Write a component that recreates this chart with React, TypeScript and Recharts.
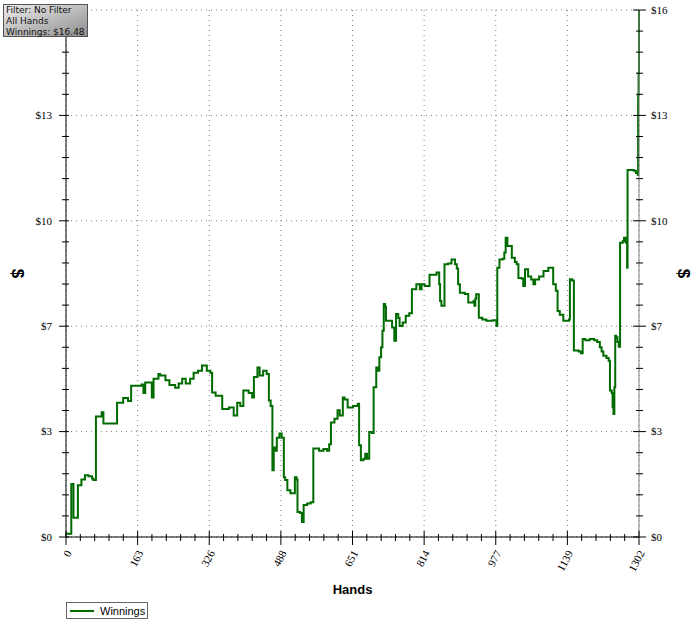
import React from 'react';
import { LineChart, Line, XAxis, YAxis, CartesianGrid } from 'recharts';

// hand number where the running total changes
const hands = [
  0, 11, 12, 17, 27, 35, 43, 51, 59, 62,
  68, 81, 85, 107, 116, 130, 141, 148, 172, 176,
  180, 195, 199, 210, 214, 226, 235, 248, 256, 264,
  272, 282, 290, 300, 309, 320, 328, 332, 340, 350,
  355, 370, 381, 389, 396, 403, 415, 423, 427, 435,
  440, 448, 456, 461, 465, 469, 472, 475, 479, 485,
  490, 495, 498, 503, 510, 520, 524, 526, 532, 536,
  540, 548, 556, 562, 575, 585, 593, 598, 602, 610,
  617, 622, 629, 633, 640, 652, 663, 666, 670, 676,
  680, 684, 689, 695, 699, 705, 709, 712, 716, 719,
  722, 725, 727, 735, 741, 746, 750, 755, 758, 765,
  772, 780, 786, 796, 804, 808, 815, 826, 835, 842,
  848, 850, 853, 860, 868, 876, 884, 888, 891, 895,
  906, 914, 926, 928, 930, 932, 938, 946, 955, 970,
  978, 980, 985, 992, 996, 999, 1003, 1010, 1013, 1020,
  1024, 1028, 1035, 1039, 1043, 1050, 1057, 1062, 1066, 1075,
  1085, 1096, 1104, 1107, 1113, 1117, 1122, 1130, 1143, 1145,
  1150, 1154, 1165, 1170, 1174, 1180, 1190, 1200, 1207, 1213,
  1217, 1221, 1228, 1233, 1236, 1240, 1242, 1244, 1246, 1248,
  1250, 1253, 1256, 1259, 1265, 1268, 1272, 1275, 1276, 1285,
  1290, 1295, 1299, 1300, 1301, 1302,
];

// winnings in $ at each of those hands
const winnings = [
  0.1, 0.1, 1.66, 0.6, 1.62, 1.8, 1.93, 1.9, 1.83, 1.78,
  3.77, 3.9, 3.55, 3.55, 4.2, 4.35, 4.25, 4.73, 4.77, 4.5,
  4.83, 4.36, 4.95, 5.1, 5.05, 4.9, 4.75, 4.67, 4.8, 4.95,
  4.8, 4.95, 5.14, 5.2, 5.36, 5.2, 5.14, 4.52, 4.42, 4.42,
  4.0, 4.05, 3.8, 4.2, 4.1, 4.58, 4.5, 4.36, 5.0, 5.3,
  5.05, 5.2, 5.1, 4.27, 4.1, 2.09, 2.8, 2.7, 3.1, 3.24,
  3.1, 1.87, 1.78, 1.46, 1.37, 1.87, 1.8, 0.78, 0.75, 0.47,
  1.0, 1.05, 1.09, 2.77, 2.7, 2.75, 2.7, 2.9, 3.58, 3.7,
  3.96, 3.8, 4.36, 4.3, 4.05, 4.1, 4.17, 2.87, 2.4, 2.45,
  2.6, 2.45, 3.28, 3.25, 4.68, 5.3, 5.2, 5.62, 5.93, 6.45,
  7.29, 7.2, 6.76, 6.76, 6.55, 6.14, 6.97, 6.85, 6.6, 6.71,
  6.92, 7.0, 7.75, 7.9, 7.75, 7.9, 7.85, 8.2, 8.2, 8.27,
  7.9, 7.38, 7.23, 8.53, 8.55, 8.68, 8.53, 8.4, 7.9, 7.64,
  7.6, 7.33, 7.38, 7.23, 7.45, 7.59, 6.86, 6.8, 6.76, 6.78,
  6.6, 8.42, 8.68, 8.7, 8.9, 9.36, 9.1, 9.1, 8.73, 8.6,
  8.53, 8.1, 8.08, 7.85, 8.37, 8.15, 8.05, 7.9, 8.05, 8.15,
  8.32, 8.42, 8.42, 7.9, 7.7, 7.07, 6.95, 6.76, 6.8, 8.06,
  8.02, 5.83, 5.8, 5.75, 6.19, 6.15, 6.19, 6.15, 6.1, 5.93,
  5.8, 5.67, 5.6, 5.51, 4.58, 4.5, 4.06, 3.85, 4.68, 6.29,
  6.25, 6.1, 5.95, 9.2, 9.25, 9.36, 9.2, 8.42, 11.48, 11.48,
  11.45, 11.38, 11.33, 13.82, 14.5, 16.48,
];

const xMajor = [0, 162.75, 325.5, 488.25, 651, 813.75, 976.5, 1139.25, 1302];
const xLabels = ['0', '163', '326', '488', '651', '814', '977', '1139', '1302'];
const yMajor = [0, 3.296, 6.592, 9.888, 13.184, 16.48];
const yLabels = ['$0', '$3', '$7', '$10', '$13', '$16'];

const data = hands.map((h, i) => ({ hand: h, winnings: winnings[i] }));

// 5 minor steps between each major tick
const withMinor = (major: number[]) => {
  const out: number[] = [];
  for (let i = 0; i < major.length - 1; i++) {
    const step = (major[i + 1] - major[i]) / 5;
    for (let j = 0; j < 5; j++) out.push(major[i] + j * step);
  }
  out.push(major[major.length - 1]);
  return out;
};
const xTicks = withMinor(xMajor);
const yTicks = withMinor(yMajor);

const findMajor = (list: number[], v: number) => list.findIndex((m) => Math.abs(m - v) < 0.001);

const tickFont = { fontFamily: 'Liberation Serif', fontSize: 11, fill: '#000' };
const GREEN = '#006b00';

const BottomTick = (props: any) => {
  const { x, y, payload } = props;
  const i = findMajor(xMajor, payload.value);
  if (i < 0) return <line x1={x} x2={x} y1={y - 3} y2={y + 4} stroke="#000" />;
  const tx = x + 6;
  const ty = y + 16;
  return (
    <g>
      <line x1={x} x2={x} y1={y - 6} y2={y + 8} stroke="#000" />
      <text x={tx} y={ty} textAnchor="end" transform={`rotate(-62 ${tx} ${ty})`} {...tickFont}>
        {xLabels[i]}
      </text>
    </g>
  );
};

const TopTick = (props: any) => {
  const { x, y } = props;
  return <line x1={x} x2={x} y1={y} y2={y + 4} stroke="#000" />;
};

const LeftTick = (props: any) => {
  const { x, y, payload } = props;
  const i = findMajor(yMajor, payload.value);
  if (i < 0) return <line x1={x - 4} x2={x + 3} y1={y} y2={y} stroke="#000" />;
  // the top label sits under the info box in the original, so it is left out
  const label = i === yMajor.length - 1 ? null : yLabels[i];
  return (
    <g>
      <line x1={x - 7} x2={x + 3} y1={y} y2={y} stroke="#000" />
      {label && (
        <text x={x - 14} y={y} dy="0.35em" textAnchor="end" {...tickFont}>
          {label}
        </text>
      )}
    </g>
  );
};

const RightTick = (props: any) => {
  const { x, y, payload } = props;
  const i = findMajor(yMajor, payload.value);
  if (i < 0) return <line x1={x - 3} x2={x + 4} y1={y} y2={y} stroke="#000" />;
  return (
    <g>
      <line x1={x - 6} x2={x + 7} y1={y} y2={y} stroke="#000" />
      <text x={x + 12} y={y} dy="0.35em" textAnchor="start" {...tickFont}>
        {yLabels[i]}
      </text>
    </g>
  );
};

const axisTitle = { fontFamily: 'Liberation Sans', fontWeight: 'bold' as const, fill: '#000' };

const dollarLabel = (cx: number) => (p: any) => {
  const cy = p.viewBox.y + p.viewBox.height / 2;
  return (
    <text x={cx} y={cy} dy="0.35em" textAnchor="middle" fontSize={17} transform={`rotate(90 ${cx} ${cy})`} {...axisTitle}>
      $
    </text>
  );
};

const App = () => {
  return (
    <div style={{ position: 'absolute', left: 0, top: 0, width: 700, height: 624, background: '#fff' }}>
      <LineChart width={700} height={624} data={data} margin={{ top: 10, right: 0, bottom: 0, left: 0 }}>
        <CartesianGrid
          stroke="#808080"
          strokeDasharray="1 4"
          verticalValues={xMajor}
          horizontalValues={yMajor}
        />
        <XAxis
          xAxisId="top"
          orientation="top"
          type="number"
          dataKey="hand"
          domain={[0, 1302]}
          ticks={xTicks}
          interval={0}
          height={0}
          tickSize={0}
          tickMargin={0}
          tickLine={false}
          tick={TopTick}
          axisLine={{ stroke: '#000' }}
        />
        <XAxis
          type="number"
          dataKey="hand"
          domain={[0, 1302]}
          ticks={xTicks}
          interval={0}
          height={87}
          tickSize={0}
          tickMargin={0}
          tickLine={false}
          tick={BottomTick}
          axisLine={{ stroke: '#000' }}
          label={{
            content: (p: any) => (
              <text x={p.viewBox.x + p.viewBox.width / 2} y={p.viewBox.y + 57} textAnchor="middle" fontSize={13} {...axisTitle}>
                Hands
              </text>
            ),
          }}
        />
        <YAxis
          type="number"
          domain={[0, 16.48]}
          ticks={yTicks}
          interval={0}
          width={66}
          tickSize={0}
          tickMargin={0}
          tickLine={false}
          tick={LeftTick}
          axisLine={{ stroke: '#000' }}
          label={{ content: dollarLabel(18) }}
        />
        <YAxis
          yAxisId="right"
          orientation="right"
          type="number"
          domain={[0, 16.48]}
          ticks={yTicks}
          interval={0}
          width={61}
          tickSize={0}
          tickMargin={0}
          tickLine={false}
          tick={RightTick}
          axisLine={{ stroke: '#808080' }}
          label={{ content: dollarLabel(684) }}
        />
        {/* invisible copy so the top and right axes have a series bound to them */}
        <Line
          xAxisId="top"
          yAxisId="right"
          type="stepAfter"
          dataKey="winnings"
          stroke="none"
          strokeOpacity={0}
          dot={false}
          activeDot={false}
          legendType="none"
          isAnimationActive={false}
        />
        <Line
          type="stepAfter"
          dataKey="winnings"
          stroke={GREEN}
          strokeWidth={2}
          dot={false}
          isAnimationActive={false}
        />
      </LineChart>

      <div
        style={{
          position: 'absolute',
          left: 3,
          top: 4,
          width: 81,
          height: 31,
          border: '1px solid #555',
          background: 'linear-gradient(to bottom right, #ececec, #8e8e8e)',
          fontFamily: 'DejaVu Sans',
          fontSize: 9,
          lineHeight: '11px',
          color: '#111',
          paddingLeft: 2,
          boxSizing: 'content-box',
          whiteSpace: 'nowrap',
        }}
      >
        <div>Filter: No Filter</div>
        <div>All Hands</div>
        <div>Winnings: $16.48</div>
      </div>

      <div
        style={{
          position: 'absolute',
          left: 66,
          top: 602,
          width: 80,
          height: 15,
          border: '1px solid #666',
          background: '#fff',
          fontFamily: 'Liberation Sans',
          fontSize: 11,
          display: 'flex',
          alignItems: 'center',
        }}
      >
        <span style={{ display: 'inline-block', width: 24, height: 2, background: GREEN, marginLeft: 3, marginRight: 6 }} />
        <span>Winnings</span>
      </div>
    </div>
  );
};

export default App;
